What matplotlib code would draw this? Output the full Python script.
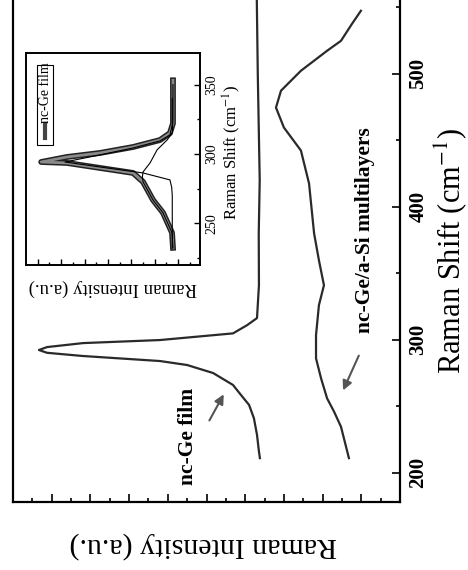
import matplotlib
matplotlib.use('Agg')
import matplotlib.pyplot as plt
from matplotlib.patches import Rectangle
from matplotlib.lines import Line2D

plt.rcParams['font.family'] = ['Liberation Serif', 'DejaVu Serif']
plt.rcParams['mathtext.fontset'] = 'stix'

# main panel: Raman shift (cm-1) vs intensity (a.u.)
film_shift = [211, 216, 228.5, 241, 251, 258.5, 266, 275, 281, 284, 287.8, 290.2,
              292.3, 294.5, 297.5, 299.8, 304.8, 311, 316.3, 341, 380, 420, 460,
              500, 555]
film_int = [7.24, 7.29, 7.39, 7.55, 7.80, 8.22, 8.63, 9.66, 11.0, 12.4, 16.4, 18.24,
            18.66, 18.24, 16.38, 12.4, 8.63, 7.9, 7.39, 7.29, 7.3, 7.25, 7.3,
            7.35, 7.4]

multi_shift = [211, 234.6, 246, 256, 271, 286, 303.5, 326, 341, 359.8, 380, 417.5,
               442.3, 459.6, 474.6, 487.3, 502.3, 517.3, 524.8, 537.6, 547.4]
multi_int = [2.64, 3.05, 3.41, 3.77, 4.08, 4.34, 4.34, 4.19, 3.93, 4.19, 4.44, 4.70,
             5.12, 6.0, 6.41, 6.15, 5.12, 3.77, 3.05, 2.48, 2.02]

# inset: nc-Ge film spectrum and fitted components
ins_shift = [232.4, 243.2, 257.6, 266.9, 279.9, 286.3, 289.9, 293.5, 294.2, 297.8,
             300.7, 305, 310, 315, 322, 339, 353]
ins_int = [2.44, 2.52, 3.29, 4.15, 5.0, 5.85, 8.68, 11.5, 13.7, 11.5,
           8.68, 5.85, 3.55, 2.7, 2.44, 2.44, 2.44]

narrow_shift = [232, 270, 276, 281.3, 286.3, 290.6, 294.2, 299.3, 304.3, 309.4,
                313.7, 321, 340]
narrow_int = [2.5, 2.5, 2.55, 2.7, 5.0, 8.68, 11.67, 8.68, 5.85, 3.55,
              2.7, 2.5, 2.5]

broad_shift = [232.4, 243.2, 257.6, 266.9, 279.9, 283.5, 287, 293.5, 302.9, 310,
               315, 325, 350]
broad_int = [2.44, 2.52, 3.29, 4.15, 5.0, 5.05, 5.0, 4.4, 3.8, 2.95,
             2.5, 2.44, 2.44]

W, H = 468, 570
fig = plt.figure(figsize=(W / 100, H / 100), dpi=100)

ax = fig.add_axes([13 / W, 1 - 502 / H, 387 / W, 502 / H])
ax.plot(film_int, film_shift, color='#2a2a2a', lw=1.6)
ax.plot(multi_int, multi_shift, color='#2a2a2a', lw=1.6)
ax.set_xlim(20, 0)
ax.set_ylim(178, 555.5)
ax.spines['top'].set_visible(False)
for s in ['left', 'right', 'bottom']:
    ax.spines[s].set_linewidth(1.6)
ax.yaxis.tick_right()
ax.set_yticks([200, 300, 400, 500])
ax.set_yticks([250, 350, 450, 550], minor=True)
ax.set_xticks(range(2, 20, 2))
ax.set_xticks(range(1, 20, 2), minor=True)
ax.tick_params(which='both', direction='in', width=1.2)
ax.tick_params(which='major', length=6)
ax.tick_params(which='minor', length=3)
ax.tick_params(axis='x', labelbottom=False)
ax.tick_params(axis='y', which='major', labelsize=15, labelrotation=90, pad=6)
for t in ax.get_yticklabels():
    t.set_fontweight('bold')
    t.set_va('center')

ax.text(10.95, 191, 'nc-Ge film', rotation=90, fontsize=15.5, fontweight='bold',
        ha='center', va='bottom')
ax.text(1.8, 305, 'nc-Ge/a-Si multilayers', rotation=90, fontsize=15.5,
        fontweight='bold', ha='center', va='bottom')
ax.annotate('', xy=(9.04, 260.8), xytext=(9.92, 237.5),
            arrowprops=dict(arrowstyle='-|>', color='#555555', lw=1.5,
                            mutation_scale=14))
ax.annotate('', xy=(3.0, 260), xytext=(2.07, 290),
            arrowprops=dict(arrowstyle='-|>', color='#555555', lw=1.5,
                            mutation_scale=14))

fig.text(451 / W, 1 - 251 / H, 'Raman Shift (cm$^{-1}$)', rotation=90,
         fontsize=22, ha='center', va='center')
fig.text(203 / W, 1 - 545 / H, 'Raman Intensity (a.u.)', rotation=180,
         fontsize=21.5, ha='center', va='center')

# inset
ins = fig.add_axes([26 / W, 1 - 265 / H, 174 / W, 212 / H])
ins.plot(ins_int, ins_shift, color='#222222', lw=4.2)
ins.plot(ins_int, ins_shift, color='#8a8a8a', lw=2.0)
ins.plot(narrow_int, narrow_shift, color='black', lw=0.8)
ins.plot(broad_int, broad_shift, color='black', lw=0.8)
ins.set_xlim(15, 0.13)
ins.set_ylim(220, 372.7)
for s in ins.spines.values():
    s.set_linewidth(1.4)
ins.yaxis.tick_right()
ins.set_yticks([250, 300, 350])
ins.set_yticks([225, 275, 325], minor=True)
ins.set_xticks(range(2, 15, 2))
ins.set_xticks(range(1, 15, 2), minor=True)
ins.tick_params(which='both', direction='in', width=1.0, top=False, left=False)
ins.tick_params(which='major', length=4)
ins.tick_params(which='minor', length=2.5)
ins.tick_params(axis='x', labelbottom=False)
ins.tick_params(axis='y', which='major', labelsize=10, labelrotation=90, pad=4)
for t in ins.get_yticklabels():
    t.set_va('center')

ins.add_patch(Rectangle((0.063, 0.566), 0.092, 0.377, transform=ins.transAxes,
                        fill=False, lw=0.8, color='black'))
ins.add_line(Line2D([0.11, 0.11], [0.60, 0.665], transform=ins.transAxes,
                    color='#444444', lw=3))
ins.text(0.11, 0.672, 'nc-Ge film', transform=ins.transAxes, rotation=90,
         fontsize=10, ha='center', va='bottom')

fig.text(232 / W, 1 - 152 / H, 'Raman Shift (cm$^{-1}$)', rotation=90,
         fontsize=12, ha='center', va='center')
fig.text(113 / W, 1 - 288 / H, 'Raman Intensity (a.u.)', rotation=180,
         fontsize=13.5, ha='center', va='center')

fig.savefig('out.png', dpi=100)
